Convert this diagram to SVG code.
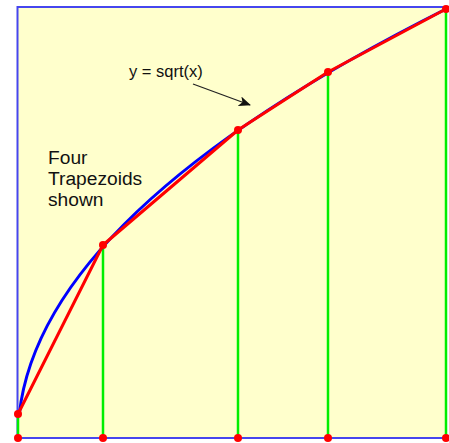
<svg xmlns="http://www.w3.org/2000/svg" width="449" height="443" viewBox="0 0 449 443">
<style>
.lbl{font-family:"Liberation Sans",Arial,sans-serif;fill:#111111}
.vert{stroke:#00ee00;stroke-width:2.5}
.dot{fill:#ff0000}
</style>
<defs>
<marker id="ah" markerWidth="12" markerHeight="10" refX="11" refY="5" orient="auto" markerUnits="userSpaceOnUse">
<path d="M0,0 L12,5 L0,10 L3,5 Z" fill="#111"/>
</marker>
</defs>
<rect width="449" height="443" fill="#ffffff"/>
<g id="frame">
<rect x="17.5" y="7" width="428.5" height="431" fill="#ffffcc" stroke="#4646ee" stroke-width="2"/>
</g>
<g id="connectors">
<line class="vert" x1="18" y1="414" x2="18" y2="438"/>
<line class="vert" x1="103" y1="245" x2="103" y2="438"/>
<line class="vert" x1="238" y1="130" x2="238" y2="438"/>
<line class="vert" x1="328" y1="72" x2="328" y2="438"/>
<line class="vert" x1="446" y1="9" x2="446" y2="438"/>
<path id="curve" d="M19.3,414 Q41.9,211.5 446,9" fill="none" stroke="#0000ff" stroke-width="3"/>
<polyline id="trapezoids" points="18,414 103,245 238,130 328,72 446,9" fill="none" stroke="#ff0000" stroke-width="3" stroke-linejoin="round"/>
<line id="arrow" x1="193" y1="84" x2="250" y2="105" stroke="#222" stroke-width="1.3" marker-end="url(#ah)"/>
</g>
<g id="points">
<circle class="dot" cx="18" cy="414" r="4"/>
<circle class="dot" cx="103" cy="245" r="4"/>
<circle class="dot" cx="238" cy="130" r="4"/>
<circle class="dot" cx="328" cy="72" r="4"/>
<circle class="dot" cx="446" cy="9" r="4"/>
<circle class="dot" cx="18" cy="438" r="4"/>
<circle class="dot" cx="103" cy="438" r="4"/>
<circle class="dot" cx="238" cy="438" r="4"/>
<circle class="dot" cx="328" cy="438" r="4"/>
<circle class="dot" cx="446" cy="438" r="4"/>
</g>
<g id="label-curve">
<text class="lbl" x="129" y="77" font-size="16.5">y = sqrt(x)</text>
</g>
<g id="label-trap">
<text class="lbl" font-size="19.2"><tspan x="48" y="164">Four</tspan><tspan x="48" y="185">Trapezoids</tspan><tspan x="48" y="206">shown</tspan></text>
</g>
</svg>
